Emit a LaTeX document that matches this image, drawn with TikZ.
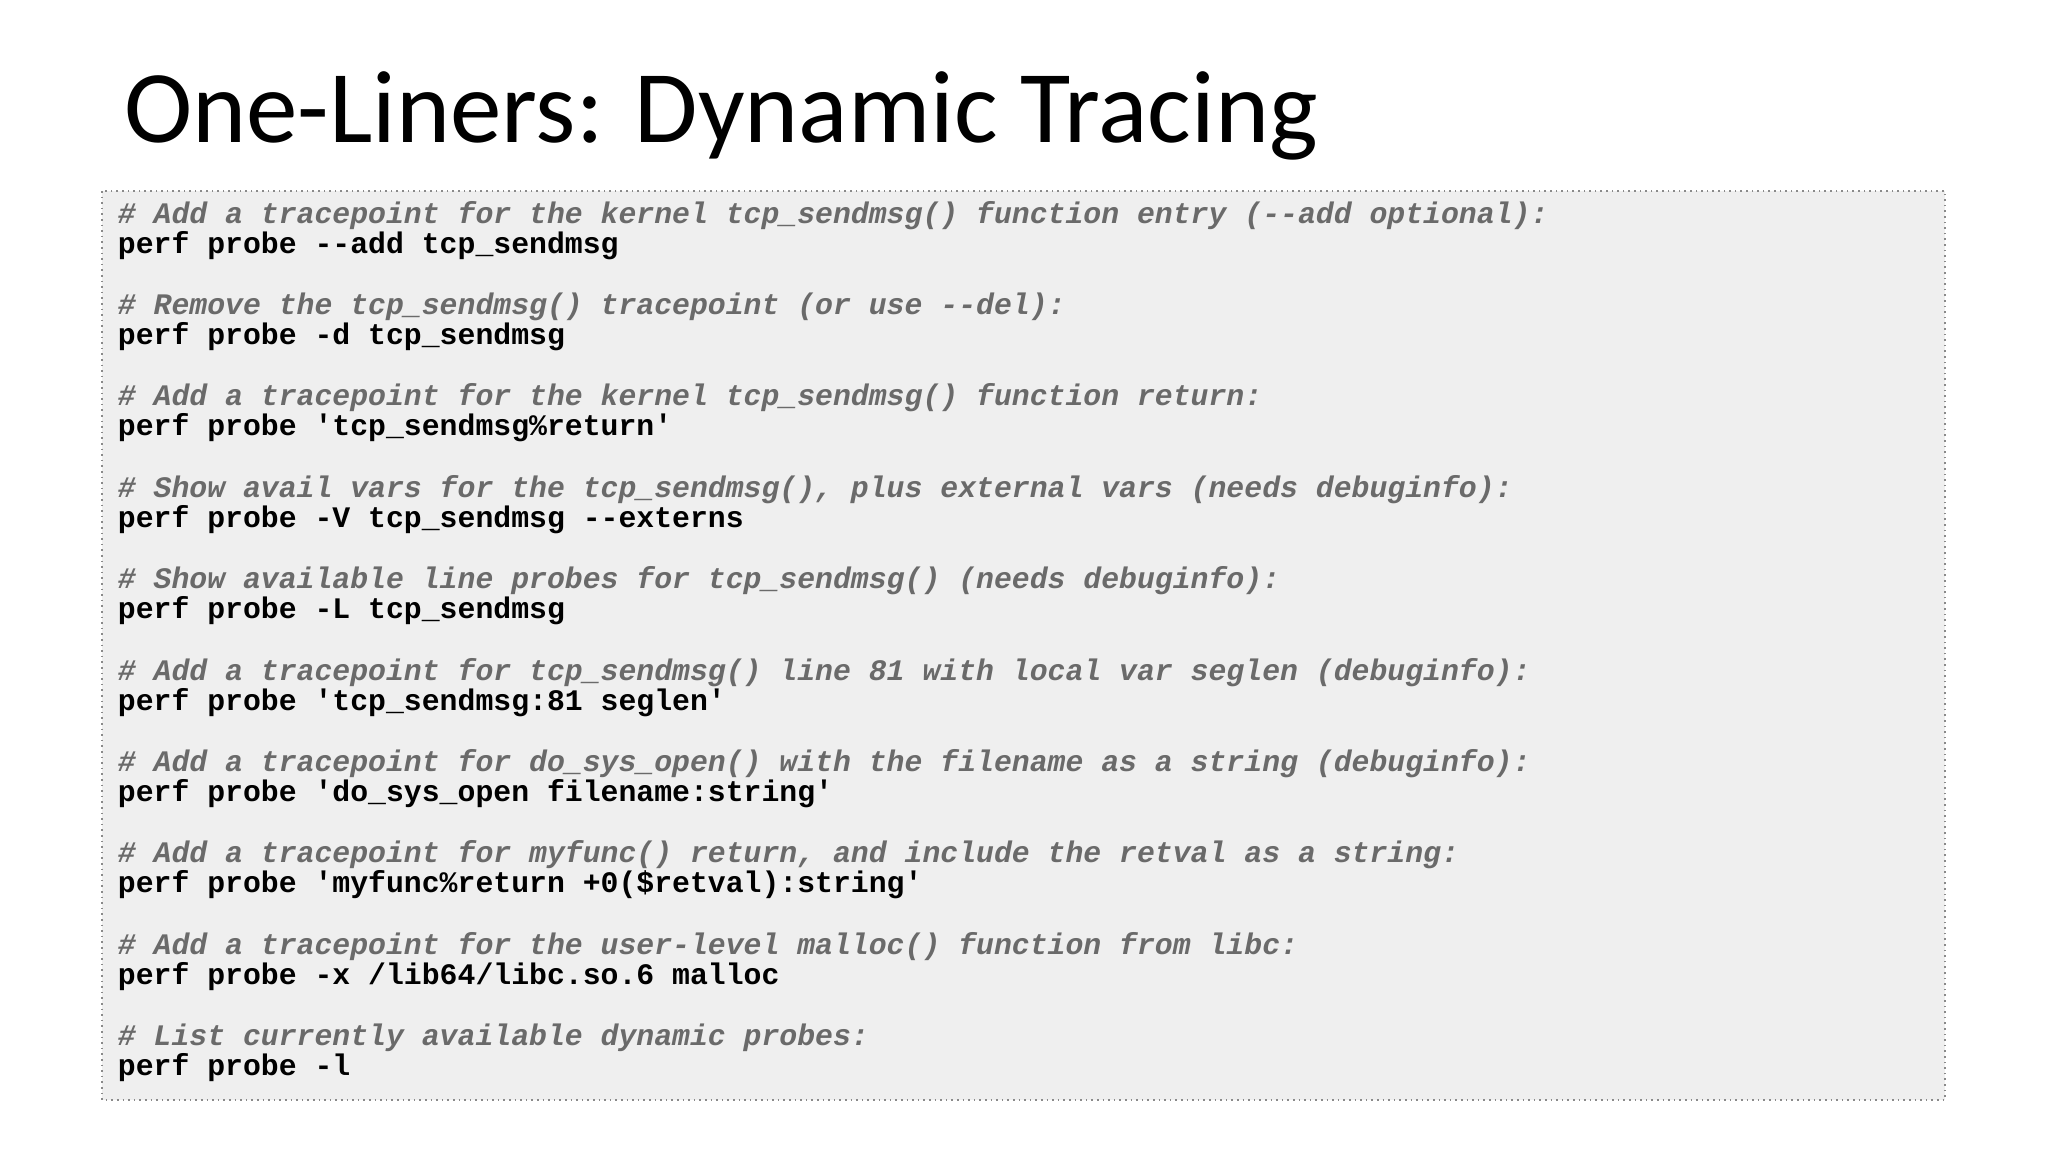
\documentclass[tikz,border=0pt]{standalone}
\usepackage{fontspec}
\setmainfont{Carlito}
\newfontfamily\codefont{Liberation Mono}
\definecolor{boxbg}{HTML}{EFEFEF}
\definecolor{boxline}{HTML}{8A8A8A}
\definecolor{cmt}{HTML}{6A6A6A}
\tikzset{
 cmtline/.style={anchor=base west,inner sep=0pt,font=\codefont\bfseries\itshape\fontsize{14.9}{15}\selectfont,text=cmt},
 cmdline/.style={anchor=base west,inner sep=0pt,font=\codefont\bfseries\fontsize{14.9}{15}\selectfont,text=black}
}
\begin{document}
\begin{tikzpicture}[x=0.5pt,y=-0.5pt]
\useasboundingbox (0,0) rectangle (2048,1153);
\node[anchor=base west,inner sep=0pt,font=\fontsize{51.5}{55}\selectfont] (title) at (124,142) {One-Liners: Dynamic Tracing};
\draw[boxline,dotted,fill=boxbg,line width=0.8pt] (102,191) rectangle (1945,1100);
\def\gp{91.4}
\foreach \i/\c/\p in {
0/{\# Add a tracepoint for the kernel tcp\_sendmsg() function entry (-{}-add optional):}/{perf probe -{}-add tcp\_sendmsg},
1/{\# Remove the tcp\_sendmsg() tracepoint (or use -{}-del):}/{perf probe -d tcp\_sendmsg},
2/{\# Add a tracepoint for the kernel tcp\_sendmsg() function return:}/{perf probe \textquotesingle tcp\_sendmsg\%return\textquotesingle},
3/{\# Show avail vars for the tcp\_sendmsg(), plus external vars (needs debuginfo):}/{perf probe -V tcp\_sendmsg -{}-externs},
4/{\# Show available line probes for tcp\_sendmsg() (needs debuginfo):}/{perf probe -L tcp\_sendmsg},
5/{\# Add a tracepoint for tcp\_sendmsg() line 81 with local var seglen (debuginfo):}/{perf probe \textquotesingle tcp\_sendmsg:81 seglen\textquotesingle},
6/{\# Add a tracepoint for do\_sys\_open() with the filename as a string (debuginfo):}/{perf probe \textquotesingle do\_sys\_open filename:string\textquotesingle},
7/{\# Add a tracepoint for myfunc() return, and include the retval as a string:}/{perf probe \textquotesingle myfunc\%return +0(\$retval):string\textquotesingle},
8/{\# Add a tracepoint for the user-level malloc() function from libc:}/{perf probe -x /lib64/libc.so.6 malloc},
9/{\# List currently available dynamic probes:}/{perf probe -l}}{
 \node[cmtline] (c\i) at (117.5,{223+\i*\gp}) {\c};
 \node[cmdline] (p\i) at (117.5,{253+\i*\gp}) {\p};
}
\end{tikzpicture}
\end{document}
